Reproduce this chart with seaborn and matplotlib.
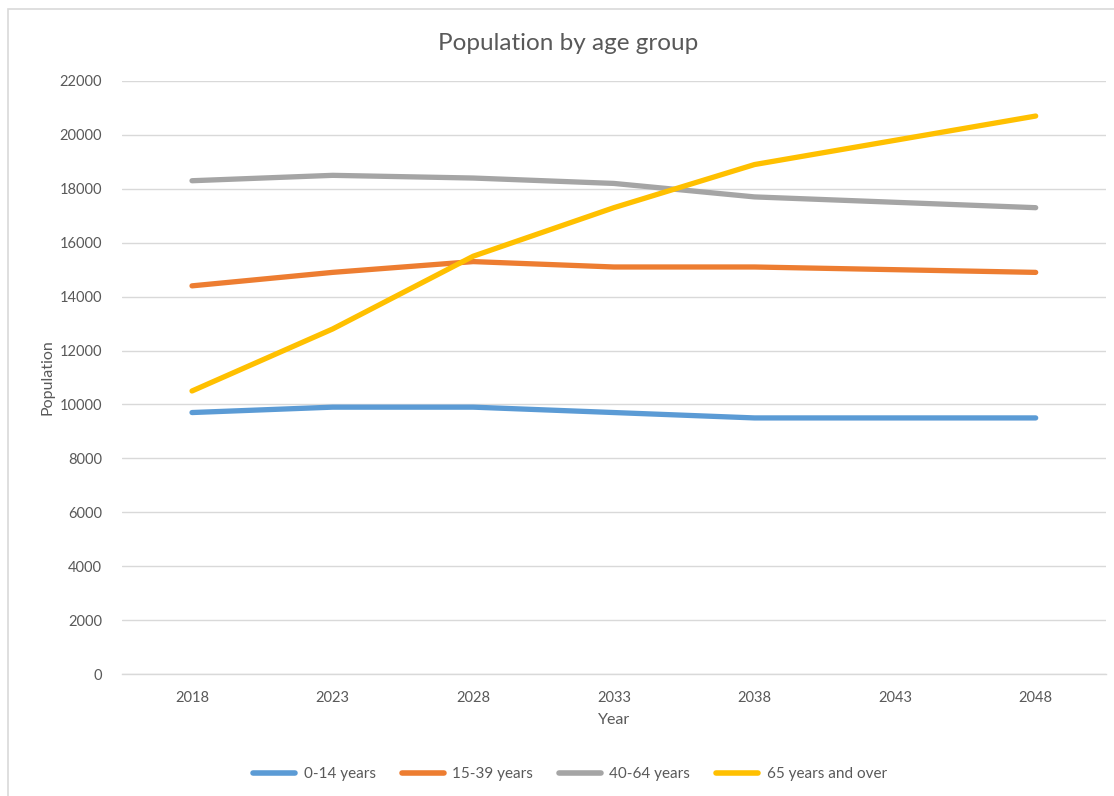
import matplotlib
matplotlib.use("Agg")
import matplotlib.pyplot as plt
import seaborn as sns
import pandas as pd
from matplotlib.patches import Rectangle

years = [2018, 2023, 2028, 2033, 2038, 2043, 2048]
age_0_14 = [9700, 9900, 9900, 9700, 9500, 9500, 9500]
age_15_39 = [14400, 14900, 15300, 15100, 15100, 15000, 14900]
age_40_64 = [18300, 18500, 18400, 18200, 17700, 17500, 17300]
age_65_plus = [10500, 12800, 15500, 17300, 18900, 19800, 20700]
series_names = ["0-14 years", "15-39 years", "40-64 years", "65 years and over"]
colors = ["#5B9BD5", "#ED7D31", "#A5A5A5", "#FFC000"]
y_ticks = list(range(0, 22001, 2000))

rows = []
for name, vals in zip(series_names, [age_0_14, age_15_39, age_40_64, age_65_plus]):
    for yr, v in zip(years, vals):
        rows.append({"Year": yr, "Population": v, "Group": name})
df = pd.DataFrame(rows)

sns.set_theme(style="white")
plt.rcParams["font.family"] = ["Lato", "DejaVu Sans"]

fig = plt.figure(figsize=(11.14, 7.96), dpi=100)
fig.patch.set_facecolor("white")
ax = fig.add_axes([121.7 / 1114, 1 - 674 / 796, (1106 - 121.7) / 1114, (674 - 81) / 796])

sns.lineplot(data=df, x="Year", y="Population", hue="Group", hue_order=series_names,
             palette=colors, linewidth=3.8, ax=ax, legend=True, solid_capstyle="round")

ax.set_xlim(years[0] - 2.5, years[-1] + 2.5)
ax.set_ylim(0, 22000)
ax.set_xticks(years)
ax.set_xticklabels([str(y) for y in years])
ax.set_yticks(y_ticks)
ax.set_yticklabels([str(t) for t in y_ticks])
ax.grid(axis="y", color="#D9D9D9", linewidth=1)
ax.set_axisbelow(True)
for s in ["top", "right", "left"]:
    ax.spines[s].set_visible(False)
ax.spines["bottom"].set_color("#D9D9D9")
ax.spines["bottom"].set_linewidth(1)
ax.tick_params(axis="both", length=0, colors="#595959", labelsize=10.5)
ax.tick_params(axis="x", pad=12)
ax.tick_params(axis="y", pad=14)

ax.set_xlabel("Year", fontsize=11.5, color="#595959", labelpad=6)
ax.set_ylabel("Population", fontsize=11.5, color="#595959", labelpad=4)
fig.text(568 / 1114, 1 - 43 / 796, "Population by age group", ha="center", va="center",
         fontsize=17.5, color="#595959")

handles, labels = ax.get_legend_handles_labels()
ax.legend_.remove()
leg = fig.legend(handles, labels, loc="center", bbox_to_anchor=(570 / 1114, 1 - 774 / 796),
                 ncol=4, frameon=False, fontsize=11, handlelength=2.75, columnspacing=1.7,
                 handletextpad=0.55, labelcolor="#595959")
for h in leg.get_lines():
    h.set_linewidth(4)

fig.patches.append(Rectangle((8 / 1114, -0.05), 1.1, 1 - 9 / 796 + 0.05,
                             transform=fig.transFigure, fill=False, edgecolor="#D9D9D9",
                             linewidth=1.2))

fig.savefig("out.png", dpi=100)
